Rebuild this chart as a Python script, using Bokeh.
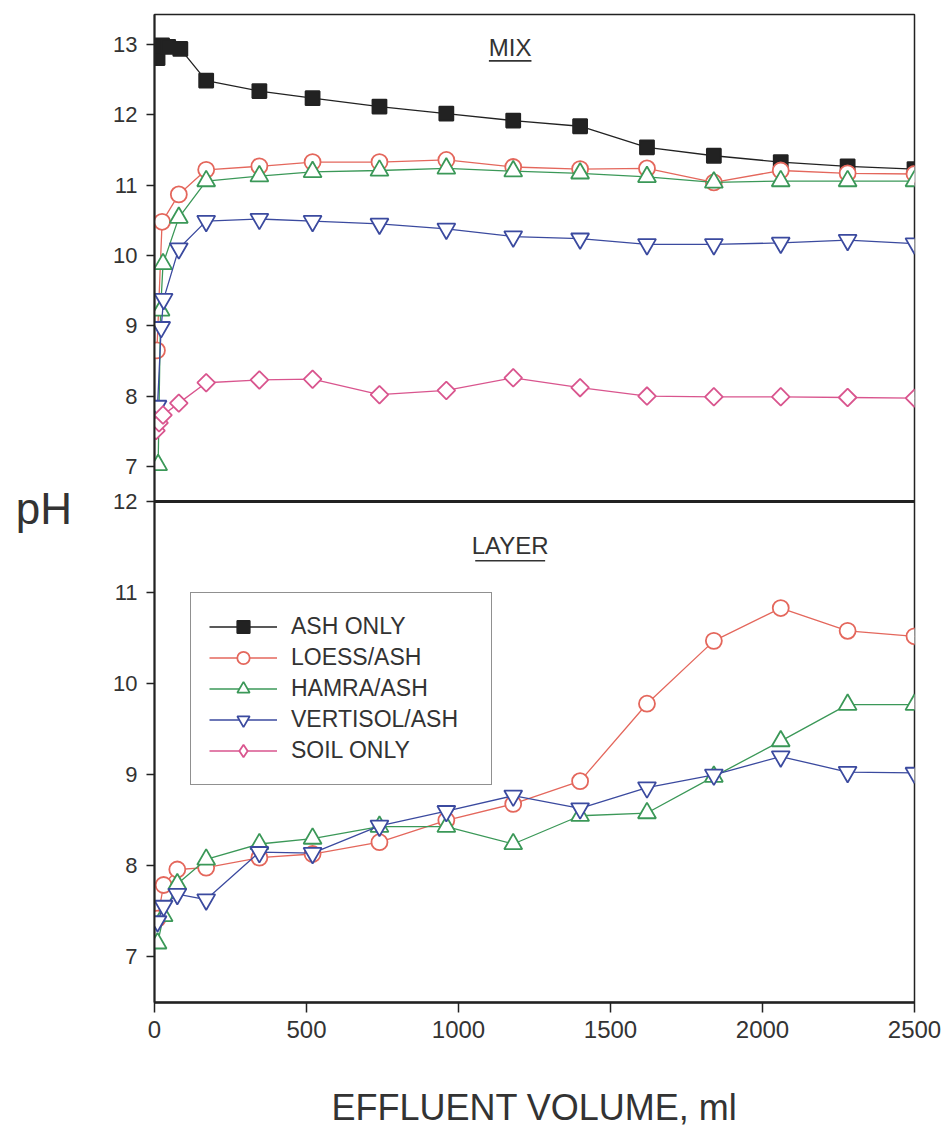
import math
from bokeh.plotting import figure
from bokeh.models import (Range1d, FixedTicker, CustomJSTickFormatter, Span, Label,
                          Legend, LegendItem)
from bokeh.embed import file_html
from bokeh.resources import INLINE

# ---------------- data ----------------
# MIX panel
mix_ash_x = [10, 25, 45, 85, 170, 345, 520, 740, 960, 1180, 1400, 1620, 1840, 2060, 2280, 2500]
mix_ash_y = [12.81, 12.99, 12.97, 12.94, 12.49, 12.34, 12.24, 12.12, 12.02, 11.92, 11.84, 11.54, 11.42, 11.33, 11.27, 11.23]
mix_loess_x = [8, 25, 80, 170, 345, 520, 740, 960, 1180, 1400, 1620, 1840, 2060, 2280, 2500]
mix_loess_y = [8.65, 10.48, 10.87, 11.22, 11.27, 11.33, 11.33, 11.36, 11.26, 11.23, 11.24, 11.04, 11.21, 11.17, 11.16]
mix_hamra_x = [12, 20, 28, 80, 170, 345, 520, 740, 960, 1180, 1400, 1620, 1840, 2060, 2280, 2500]
mix_hamra_y = [7.02, 9.22, 9.88, 10.54, 11.06, 11.13, 11.19, 11.21, 11.24, 11.20, 11.17, 11.12, 11.04, 11.06, 11.06, 11.06]
mix_vert_x = [10, 22, 30, 80, 170, 345, 520, 740, 960, 1180, 1400, 1620, 1840, 2060, 2280, 2500]
mix_vert_y = [7.86, 8.98, 9.38, 10.10, 10.49, 10.52, 10.49, 10.45, 10.38, 10.27, 10.24, 10.16, 10.16, 10.18, 10.22, 10.17]
mix_soil_x = [5, 15, 28, 80, 170, 345, 520, 740, 960, 1180, 1400, 1620, 1840, 2060, 2280, 2500]
mix_soil_y = [7.51, 7.62, 7.73, 7.90, 8.19, 8.23, 8.24, 8.02, 8.08, 8.26, 8.12, 8.00, 7.99, 7.99, 7.98, 7.97]

# LAYER panel
layer_x = [10, 30, 75, 170, 345, 520, 740, 960, 1180, 1400, 1620, 1840, 2060, 2280, 2500]
layer_loess_y = [7.42, 7.79, 7.96, 7.98, 8.09, 8.13, 8.26, 8.50, 8.68, 8.93, 9.78, 10.47, 10.83, 10.58, 10.52]
layer_hamra_y = [7.15, 7.45, 7.80, 8.07, 8.24, 8.30, 8.43, 8.43, 8.24, 8.55, 8.58, 8.98, 9.37, 9.77, 9.77]
layer_vert_y = [7.39, 7.56, 7.69, 7.63, 8.15, 8.14, 8.44, 8.60, 8.77, 8.63, 8.86, 9.00, 9.20, 9.03, 9.02]

series_names = ["ASH ONLY", "LOESS/ASH", "HAMRA/ASH", "VERTISOL/ASH", "SOIL ONLY"]
x_ticks = [0, 500, 1000, 1500, 2000, 2500]
mix_ticks = [7, 8, 9, 10, 11, 12, 13]
layer_ticks = [7, 8, 9, 10, 11, 12]

# ---------------- layout constants ----------------
H_TOP, H_BOT = 487, 501          # pixel heights of the two panels
TOP_LO, TOP_HI = 6.5, 13.43
BOT_LO, BOT_HI = 6.5, 12.0
bot_k = H_BOT / (BOT_HI - BOT_LO)
top_k = H_TOP / (TOP_HI - TOP_LO)
ratio = top_k / bot_k

y_main = Range1d(BOT_LO, BOT_LO + (H_TOP + H_BOT) / bot_k)
y_top = Range1d(TOP_LO - H_BOT / top_k, TOP_HI)

FONT = "Liberation Sans"
TXT = "#333333"

p = figure(width=947, height=1137, output_backend="svg", toolbar_location=None,
           x_range=Range1d(0, 2500), y_range=y_main,
           min_border_left=154, min_border_right=33, min_border_top=14, min_border_bottom=135)
p.extra_y_ranges = {"top": y_top}
p.grid.visible = False
p.outline_line_color = "#222222"
p.outline_line_width = 1.5
p.background_fill_color = "white"
p.border_fill_color = "white"

# x axis
xa = p.xaxis[0]
xa.ticker = FixedTicker(ticks=x_ticks)
xa.axis_label = "EFFLUENT VOLUME, ml"
xa.axis_label_text_font = FONT
xa.axis_label_text_font_size = "36px"
xa.axis_label_text_font_style = "normal"
xa.axis_label_text_color = TXT
xa.axis_label_standoff = 46
xa.major_label_text_font = FONT
xa.major_label_text_font_size = "24px"
xa.major_label_text_color = TXT
xa.major_label_standoff = 8
xa.major_tick_out = 10
xa.major_tick_in = 0
xa.minor_tick_line_color = None
xa.axis_line_width = 2.5
xa.axis_line_color = "#222222"
xa.major_tick_line_width = 1.5
xa.major_tick_line_color = "#222222"

# y axis: one axis carrying both panels' ticks
ya = p.yaxis[0]
tick_pos = list(layer_ticks) + [BOT_HI + (v - TOP_LO) * ratio for v in mix_ticks]
ya.ticker = FixedTicker(ticks=tick_pos)
ya.formatter = CustomJSTickFormatter(args=dict(split=BOT_HI, lo=TOP_LO, ratio=ratio), code="""
    if (tick > split + 1e-6) { return String(Math.round(lo + (tick - split) / ratio)); }
    return String(Math.round(tick));
""")
ya.axis_label = "pH"
ya.axis_label_orientation = "horizontal"
ya.axis_label_text_font = FONT
ya.axis_label_text_font_size = "44px"
ya.axis_label_text_font_style = "normal"
ya.axis_label_text_color = TXT
ya.axis_label_standoff = 38
ya.major_label_text_font = FONT
ya.major_label_text_font_size = "22px"
ya.major_label_text_color = TXT
ya.major_label_standoff = 9
ya.major_tick_out = 8
ya.major_tick_in = 0
ya.minor_tick_line_color = None
ya.axis_line_width = 2
ya.axis_line_color = "#222222"
ya.major_tick_line_width = 1.5
ya.major_tick_line_color = "#222222"

# separator between the panels
p.add_layout(Span(location=BOT_HI, dimension="width", line_color="#222222", line_width=3))

BLACK = "#222222"
RED = "#e4675c"
GREEN = "#3b9858"
BLUE = "#3b4a9f"
PINK = "#d9558e"

def series(x, y, color, marker, size, fill, rng=None, angle=0.0):
    kw = {} if rng is None else {"y_range_name": rng}
    ln = p.line(x, y, line_color=color, line_width=1.3, **kw)
    sc = p.scatter(x, y, marker=marker, size=size, line_color=color, line_width=1.8,
                   fill_color=fill, angle=angle, **kw)
    return [ln, sc]

mix = [
    series(mix_ash_x, mix_ash_y, BLACK, "square", 14, BLACK, "top"),
    series(mix_loess_x, mix_loess_y, RED, "circle", 16, "white", "top"),
    series(mix_hamra_x, mix_hamra_y, GREEN, "triangle", 18, "white", "top"),
    series(mix_vert_x, mix_vert_y, BLUE, "inverted_triangle", 18, "white", "top"),
    series(mix_soil_x, mix_soil_y, PINK, "square", 12.5, "white", "top", math.pi / 4),
]
series(layer_x, layer_loess_y, RED, "circle", 16, "white")
series(layer_x, layer_hamra_y, GREEN, "triangle", 18, "white")
series(layer_x, layer_vert_y, BLUE, "inverted_triangle", 18, "white")

# legend swatch for the diamonds (legend glyphs ignore marker angle)
soil_key = p.scatter(mix_soil_x, mix_soil_y, marker="diamond", size=16, line_color=PINK,
                     line_width=1.8, fill_color="white", y_range_name="top", visible=False)
mix[4] = [mix[4][0], soil_key]

# panel titles (underlined)
p.add_layout(Label(x=1170, y=12.96, y_range_name="top", text="MIX", text_align="center",
                   text_baseline="middle", text_font=FONT, text_font_size="24px", text_color=TXT))
p.segment(x0=[1100], y0=[12.77], x1=[1240], y1=[12.77], y_range_name="top",
          line_color=TXT, line_width=1.6)
p.add_layout(Label(x=1170, y=11.52, text="LAYER", text_align="center",
                   text_baseline="middle", text_font=FONT, text_font_size="24px", text_color=TXT))
p.segment(x0=[1055], y0=[11.35], x1=[1285], y1=[11.35], line_color=TXT, line_width=1.6)

legend = Legend(items=[LegendItem(label=n, renderers=r) for n, r in zip(series_names, mix)],
                location=(36, 217), padding=18, spacing=0, margin=0,
                label_height=31, glyph_height=31, glyph_width=68, label_standoff=14, label_width=182,
                label_text_font=FONT, label_text_font_size="23px", label_text_color=TXT,
                border_line_color="#222222", border_line_width=1.5,
                background_fill_color="white", background_fill_alpha=1.0)
p.add_layout(legend)

open("out.html", "w").write(file_html(p, INLINE))
